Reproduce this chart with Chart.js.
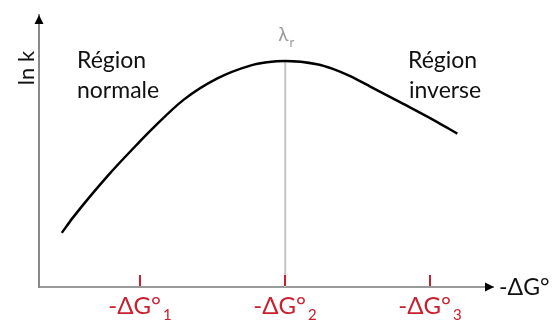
<!DOCTYPE html>
<html>
<head>
<meta charset="utf-8">
<script src="https://cdn.jsdelivr.net/npm/chart.js@4"></script>
<style>
html,body{margin:0;padding:0;background:#fff;}
canvas{display:block;}
</style>
</head>
<body>
<canvas id="c" width="555" height="320"></canvas>
<script>
// Curve of ln k versus -ΔG° (arbitrary units)
const curveX = [0.46, 0.538, 0.772, 1.0, 1.092, 1.299, 1.529, 1.759, 1.874, 2.0, 2.219, 2.333, 2.448, 2.586, 2.814, 3.048, 3.186];
const curveY = [19.9, 25.6, 40.6, 53.6, 58.6, 68.8, 76.6, 81.4, 82.6, 83.1, 81.9, 80.1, 77.5, 73.7, 67.3, 60.6, 56.4];
// Marked free-energy values on the x axis
const tickValues = [1, 2, 3];
const tickLabels = ['-ΔG°', '-ΔG°', '-ΔG°'];
const tickSubs = ['1', '2', '3'];
// Reorganisation energy position (vertical line to the maximum)
const lambdaX = 2;
const lambdaY = 83.1;
const lambdaLabel = 'λ';
const lambdaSub = 'r';
const xTitle = '-ΔG°';
const yTitle = 'ln k';
const regionLeft = ['Région', 'normale'];
const regionRight = ['Région', 'inverse'];

const FONT = 'Lato, "Open Sans", sans-serif';
const RED = '#C8202F';

const decor = {
  id: 'decor',
  afterDraw(chart) {
    const ctx = chart.ctx;
    const a = chart.chartArea;
    const xs = chart.scales.x;
    ctx.save();
    // arrowheads
    ctx.fillStyle = '#000';
    ctx.beginPath();
    ctx.moveTo(a.left, a.top);
    ctx.lineTo(a.left - 4.5, a.top + 9);
    ctx.lineTo(a.left + 4.5, a.top + 9);
    ctx.closePath();
    ctx.fill();
    ctx.beginPath();
    ctx.moveTo(a.right + 1, a.bottom);
    ctx.lineTo(a.right - 8, a.bottom - 4.5);
    ctx.lineTo(a.right - 8, a.bottom + 4.5);
    ctx.closePath();
    ctx.fill();
    // red ticks + labels
    ctx.strokeStyle = RED;
    ctx.fillStyle = RED;
    ctx.lineWidth = 2;
    tickValues.forEach((v, i) => {
      const px = Math.round(xs.getPixelForValue(v));
      ctx.beginPath();
      ctx.moveTo(px, a.bottom - 12);
      ctx.lineTo(px, a.bottom - 1);
      ctx.stroke();
      ctx.font = '24px ' + FONT;
      const w1 = ctx.measureText(tickLabels[i]).width;
      ctx.font = '15px ' + FONT;
      const w2 = ctx.measureText(tickSubs[i]).width;
      const start = px - (w1 + 2 + w2) / 2;
      ctx.textAlign = 'left';
      ctx.textBaseline = 'alphabetic';
      ctx.font = '24px ' + FONT;
      ctx.fillText(tickLabels[i], start, a.bottom + 27);
      ctx.font = '15px ' + FONT;
      ctx.fillText(tickSubs[i], start + w1 + 2, a.bottom + 33);
    });
    // axis titles
    ctx.fillStyle = '#111';
    ctx.font = '23px ' + FONT;
    ctx.textAlign = 'left';
    ctx.fillText(xTitle, a.right + 6, a.bottom + 8);
    ctx.save();
    ctx.translate(a.left - 5, 68);
    ctx.rotate(-Math.PI / 2);
    ctx.textAlign = 'center';
    ctx.font = '22px ' + FONT;
    ctx.fillText(yTitle, 0, 0);
    ctx.restore();
    // region texts
    ctx.font = '23px ' + FONT;
    ctx.textAlign = 'left';
    ctx.fillText(regionLeft[0], 77, 68);
    ctx.fillText(regionLeft[1], 77, 98);
    ctx.fillText(regionRight[0], 408, 68);
    ctx.fillText(regionRight[1], 409, 98);
    // lambda label
    const lx = xs.getPixelForValue(lambdaX);
    ctx.fillStyle = '#9a9a9a';
    ctx.font = '19px ' + FONT;
    ctx.textAlign = 'left';
    ctx.fillText(lambdaLabel, lx - 7, 41);
    const lw = ctx.measureText(lambdaLabel).width;
    ctx.font = '13px ' + FONT;
    ctx.fillText(lambdaSub, lx - 7 + lw + 1, 47);
    ctx.restore();
  }
};

new Chart(document.getElementById('c'), {
  type: 'scatter',
  data: {
    datasets: [
      {
        data: [{x: lambdaX, y: 0}, {x: lambdaX, y: lambdaY}],
        showLine: true,
        borderColor: '#c4c4c4',
        borderWidth: 2,
        pointRadius: 0,
        order: 2
      },
      {
        data: curveX.map((x, i) => ({x: x, y: curveY[i]})),
        showLine: true,
        borderColor: '#000',
        borderWidth: 2.5,
        pointRadius: 0,
        cubicInterpolationMode: 'monotone',
        order: 1
      }
    ]
  },
  options: {
    responsive: false,
    animation: false,
    layout: {padding: {left: 39, right: 62, top: 15, bottom: 33}},
    plugins: {legend: {display: false}, tooltip: {enabled: false}},
    scales: {
      x: {
        type: 'linear', min: 0.303, max: 3.432,
        grid: {display: false},
        ticks: {display: false},
        border: {display: true, color: '#9a9a9a', width: 2},
        afterFit(s) { s.height = 0; }
      },
      y: {
        type: 'linear', min: 0, max: 100,
        grid: {display: false},
        ticks: {display: false},
        border: {display: true, color: '#8a8a8a', width: 2},
        afterFit(s) { s.width = 0; }
      }
    }
  },
  plugins: [decor]
});
</script>
</body>
</html>
